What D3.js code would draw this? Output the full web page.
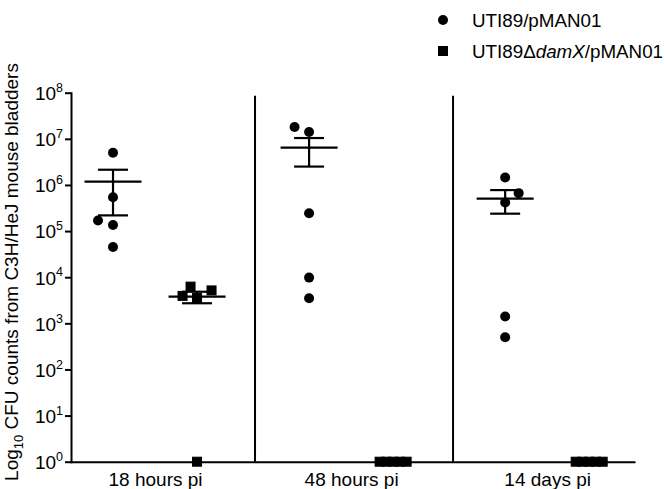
<!DOCTYPE html>
<html lang="en">
<head>
<meta charset="utf-8">
<title>CFU counts in C3H/HeJ bladders</title>
<script src="https://d3js.org/d3.v7.min.js"></script>
<style>
  body { margin: 0; background: #fff; }
  svg { font-family: "Liberation Sans", Arial, sans-serif; }
  .axis path, .axis line { stroke: #000; stroke-width: 2; }
</style>
</head>
<body>
<script>
// time points and strains
const timepoints = ["18 hours pi", "48 hours pi", "14 days pi"];
const strains = ["UTI89/pMAN01", "UTI89ΔdamX/pMAN01"];
const yTicks = [1, 10, 100, 1e3, 1e4, 1e5, 1e6, 1e7, 1e8];

// CFU per bladder (0 = nothing recovered, shown on the 10^0 line)
const wt18h   = [5.0e6, 5.4e5, 1.35e5, 1.7e5, 4.5e4];
const damX18h = [6250, 3930, 3560, 5170, 0];
const wt48h   = [1.8e7, 1.4e7, 2.44e5, 9800, 3500];
const damX48h = [0, 0, 0, 0, 0];
const wt14d   = [1.45e6, 6.64e5, 4.15e5, 1400, 500];
const damX14d = [0, 0, 0, 0, 0];

// sideways shift of overlapping points, in marker widths
const dodgeWt18h   = [0, 0, 0, -1.5, 0];
const dodgeDam18h  = [-0.65, -1.45, 0, 1.45, 0];
const dodgeWt48h   = [-1.45, 0, 0, 0, 0];
const dodgeWt14d   = [0, 1.35, 0, 0, 0];
const dodgeZeros   = [-1.35, -0.675, 0, 0.675, 1.35];

const groups = [
  {t: 0, s: 0, values: wt18h,   dodge: dodgeWt18h},
  {t: 0, s: 1, values: damX18h, dodge: dodgeDam18h},
  {t: 1, s: 0, values: wt48h,   dodge: dodgeWt48h},
  {t: 1, s: 1, values: damX48h, dodge: dodgeZeros},
  {t: 2, s: 0, values: wt14d,   dodge: dodgeWt14d},
  {t: 2, s: 1, values: damX14d, dodge: dodgeZeros}
];

const W = 665, H = 489;
const markSize = 10;

const svg = d3.select("body").append("svg")
  .attr("width", W).attr("height", H);

// slots: each time point takes 7 units, strains 3 units apart
const slot = (t, s) => t * 7 + s * 3;
const x = d3.scaleLinear().domain([-1.5, 18.6]).range([71, 634]);
const y = d3.scaleLog().domain([1, 1e8]).range([461.7, 92.7]);
const yv = v => y(Math.max(v, 1));

// y axis
const yAxis = svg.append("g").attr("class", "axis")
  .attr("transform", `translate(${x(-1.5)},0)`)
  .call(d3.axisLeft(y).tickValues(yTicks).tickSize(6).tickSizeOuter(0).tickPadding(2).tickFormat(() => ""));
yAxis.selectAll(".tick text").each(function(d) {
  const t = d3.select(this).attr("font-size", 19).attr("fill", "#000").attr("dy", "0.36em");
  t.append("tspan").text("10");
  t.append("tspan").attr("font-size", 12.5).attr("dy", "-0.65em").text(Math.round(Math.log10(d)));
});

// x axis with group labels
const mids = timepoints.map((d, i) => (slot(i, 0) + slot(i, 1)) / 2);
const xAxis = svg.append("g").attr("class", "axis")
  .attr("transform", `translate(0,${y(1)})`)
  .call(d3.axisBottom(x).tickValues(mids).tickSize(0).tickSizeOuter(0).tickPadding(10.5)
    .tickFormat((d, i) => timepoints[i]));
xAxis.selectAll(".tick text").attr("font-size", 19).attr("fill", "#000");
xAxis.select(".domain").attr("stroke-linecap", "square");
yAxis.select(".domain").attr("stroke-linecap", "square");

// panel separators
const seps = [5.07, 12.14];
svg.selectAll("line.sep").data(seps).join("line")
  .attr("class", "sep")
  .attr("x1", d => x(d)).attr("x2", d => x(d))
  .attr("y1", y(1e8) + 3).attr("y2", y(1))
  .attr("stroke", "#000").attr("stroke-width", 2);

// points
groups.forEach(g => {
  const cx = x(slot(g.t, g.s));
  const pts = g.values.map((v, i) => ({v, px: cx + g.dodge[i] * markSize}));
  if (g.s === 0) {
    svg.append("g").selectAll("circle").data(pts).join("circle")
      .attr("cx", d => d.px).attr("cy", d => yv(d.v))
      .attr("r", markSize / 2).attr("fill", "#000");
  } else {
    svg.append("g").selectAll("rect").data(pts).join("rect")
      .attr("x", d => d.px - markSize / 2 + 0.5).attr("y", d => yv(d.v) - markSize / 2 + 0.5)
      .attr("width", markSize - 1).attr("height", markSize - 1)
      .attr("fill", "#000").attr("stroke", "#000").attr("stroke-width", 1);
  }

  // mean ± SEM
  const mean = d3.mean(g.values);
  if (mean > 0) {
    const sem = d3.deviation(g.values) / Math.sqrt(g.values.length);
    const eb = svg.append("g").attr("stroke", "#000").attr("stroke-width", 2.2);
    eb.append("line").attr("x1", cx - 28.5).attr("x2", cx + 28.5)
      .attr("y1", yv(mean)).attr("y2", yv(mean));
    eb.append("line").attr("x1", cx).attr("x2", cx)
      .attr("y1", yv(mean + sem)).attr("y2", yv(mean - sem));
    [mean + sem, mean - sem].forEach(v => {
      eb.append("line").attr("x1", cx - 15).attr("x2", cx + 15)
        .attr("y1", yv(v)).attr("y2", yv(v));
    });
  }
});

// y axis title
const title = svg.append("text")
  .attr("transform", "translate(18,272) rotate(-90)")
  .attr("text-anchor", "middle").attr("font-size", 19).attr("fill", "#000");
title.append("tspan").text("Log");
title.append("tspan").attr("font-size", 13).attr("dy", 5).text("10");
title.append("tspan").attr("dy", -5).text(" CFU counts from C3H/HeJ mouse bladders");

// legend
const lg = svg.append("g").attr("font-size", 18.8);
strains.forEach((s, i) => {
  const ly = 20 + i * 31;
  if (i === 0) {
    lg.append("circle").attr("cx", 443).attr("cy", ly).attr("r", markSize / 2);
  } else {
    lg.append("rect").attr("x", 443 - markSize / 2).attr("y", ly - markSize / 2)
      .attr("width", markSize).attr("height", markSize);
  }
  const t = lg.append("text").attr("x", 472).attr("y", ly).attr("dy", "0.35em");
  if (i === 0) {
    t.text(s);
  } else {
    t.append("tspan").text("UTI89Δ");
    t.append("tspan").attr("font-style", "italic").text("damX");
    t.append("tspan").text("/pMAN01");
  }
});
</script>
</body>
</html>
